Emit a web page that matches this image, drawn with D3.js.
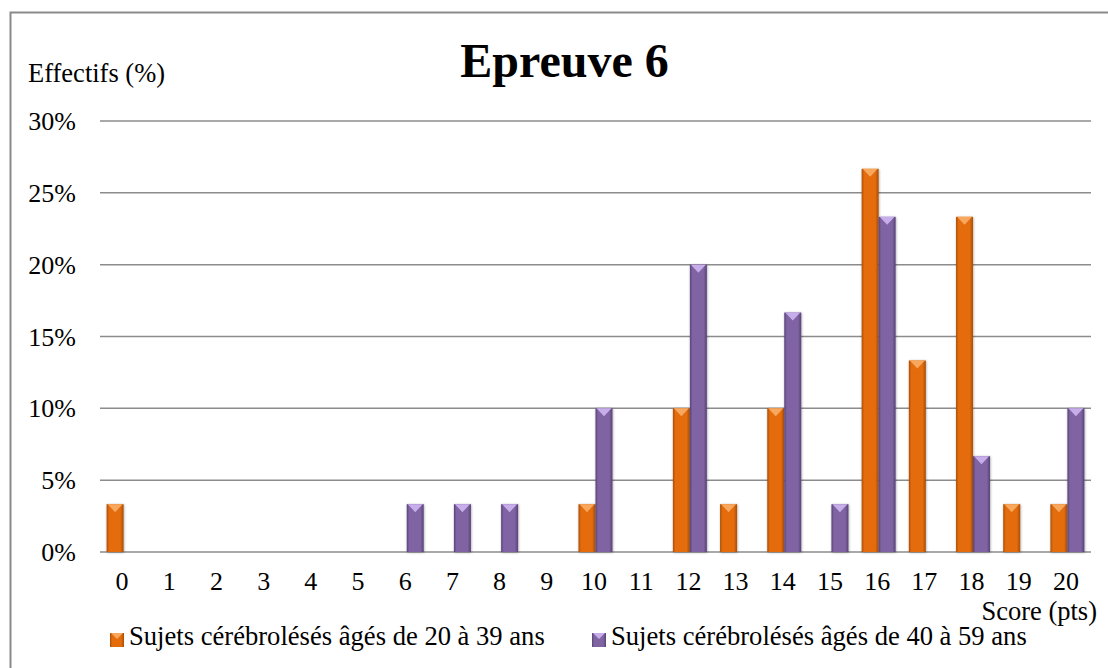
<!DOCTYPE html>
<html><head><meta charset="utf-8">
<script src="https://cdn.jsdelivr.net/npm/d3@7"></script>
<style>html,body{margin:0;padding:0;background:#fff;}svg{display:block;}</style>
</head><body>
<svg id="chart" width="1108" height="668"></svg>
<script>
const categories = ["0","1","2","3","4","5","6","7","8","9","10","11","12","13","14","15","16","17","18","19","20"];
const seriesNames = ["Sujets cérébrolésés âgés de 20 à 39 ans", "Sujets cérébrolésés âgés de 40 à 59 ans"];
const young = [3.33,0,0,0,0,0,0,0,0,0,3.33,0,10,3.33,10,0,26.67,13.33,23.33,3.33,3.33];
const older = [0,0,0,0,0,0,3.33,3.33,3.33,0,10,0,20,0,16.67,3.33,23.33,0,6.67,0,10];
const yTicks = [0,5,10,15,20,25,30];
const title = "Epreuve 6";
const yTitle = "Effectifs (%)";
const xTitle = "Score (pts)";

(function(){
const colors = [
  {base:"#E46C0A", dark:"#A84E06", light:"#F7A85E"},
  {base:"#8064A2", dark:"#574378", light:"#C7AEEA"}
];

const svg = d3.select("#chart");
const font = "'Liberation Serif','Times New Roman',serif";
const W = 1108, H = 668;
const pLeft = 100, pRight = 1091, pTop = 121, pBottom = 552;

svg.append("path").attr("d", `M10.5,${H+2} L10.5,12.5 L${W+2},12.5`)
  .attr("fill","none").attr("stroke","#8a8a8a").attr("stroke-width",2);

const defs = svg.append("defs");
colors.forEach((c,i)=>{
  const g = defs.append("linearGradient").attr("id","grad"+i).attr("x1","0").attr("x2","1").attr("y1","0").attr("y2","0");
  g.append("stop").attr("offset","0").attr("stop-color",c.dark);
  g.append("stop").attr("offset","0.15").attr("stop-color",c.base);
  g.append("stop").attr("offset","0.8").attr("stop-color",c.base);
  g.append("stop").attr("offset","1").attr("stop-color",c.dark);
});
const f = defs.append("filter").attr("id","shadow").attr("x","-50%").attr("y","-10%").attr("width","200%").attr("height","120%");
f.append("feDropShadow").attr("dx",0.5).attr("dy",0.5).attr("stdDeviation",1.2).attr("flood-color","#000").attr("flood-opacity",0.35);

const x0 = d3.scaleBand().domain(categories).range([pLeft,pRight]).padding(0);
const groupW = x0.bandwidth()*0.72;
const x1 = d3.scaleBand().domain([0,1]).range([(x0.bandwidth()-groupW)/2,(x0.bandwidth()+groupW)/2]);
const y = d3.scaleLinear().domain([0,30]).range([pBottom,pTop]);

svg.append("g").selectAll("line").data(yTicks).join("line")
  .attr("x1",pLeft).attr("x2",pRight).attr("y1",d=>y(d)).attr("y2",d=>y(d))
  .attr("stroke","#8c8c8c").attr("stroke-width",1.5);

const yAxis = d3.axisLeft(y).tickValues(yTicks).tickFormat(d=>d+"%").tickSize(0).tickPadding(0);
const ya = svg.append("g").attr("transform","translate(76,0)").call(yAxis);
ya.select(".domain").remove();
ya.selectAll("text").attr("font-family",font).attr("font-size",26).attr("fill","#000").attr("dy","0.33em");

const xAxis = d3.axisBottom(x0).tickSize(0).tickPadding(0);
const xa = svg.append("g").attr("transform",`translate(-1.5,590)`).call(xAxis);
xa.select(".domain").remove();
xa.selectAll("text").attr("font-family",font).attr("font-size",26).attr("fill","#000").attr("dy","0");

const data = [young, older];
const groups = svg.append("g");
data.forEach((vals,si)=>{
  const g = groups.append("g");
  const items = vals.map((v,i)=>({cat:categories[i], v})).filter(d=>d.v>0);
  const bw = x1.bandwidth();
  const bars = g.selectAll("g").data(items).join("g")
    .attr("transform",d=>`translate(${x0(d.cat)+x1(si)},0)`);
  bars.append("rect").attr("x",0).attr("width",bw).attr("y",d=>y(d.v)).attr("height",d=>y(0)-y(d.v))
    .attr("fill",`url(#grad${si})`).attr("filter","url(#shadow)");
  bars.append("path").attr("d",d=>{const t=y(d.v); return `M1,${t} L${bw-1},${t} L${bw/2},${t+8} Z`;})
    .attr("fill",colors[si].light);
});

svg.append("text").attr("x",564.5).attr("y",77).attr("text-anchor","middle")
  .attr("font-family",font).attr("font-size",48).attr("font-weight","bold").text(title);
svg.append("text").attr("x",28).attr("y",82).attr("font-family",font).attr("font-size",26.5).text(yTitle);
svg.append("text").attr("x",1097).attr("y",620).attr("text-anchor","end").attr("font-family",font).attr("font-size",26.5).text(xTitle);

const legX = [110, 592];
seriesNames.forEach((name,i)=>{
  const g = svg.append("g").attr("transform",`translate(${legX[i]},633)`);
  g.append("rect").attr("width",14).attr("height",14).attr("fill",`url(#grad${i})`);
  g.append("path").attr("d","M1,0 L13,0 L7,6 Z").attr("fill",colors[i].light);
  g.append("text").attr("x",19).attr("y",12).attr("font-family",font).attr("font-size",26.6).text(name);
});
})();
</script>
</body></html>
